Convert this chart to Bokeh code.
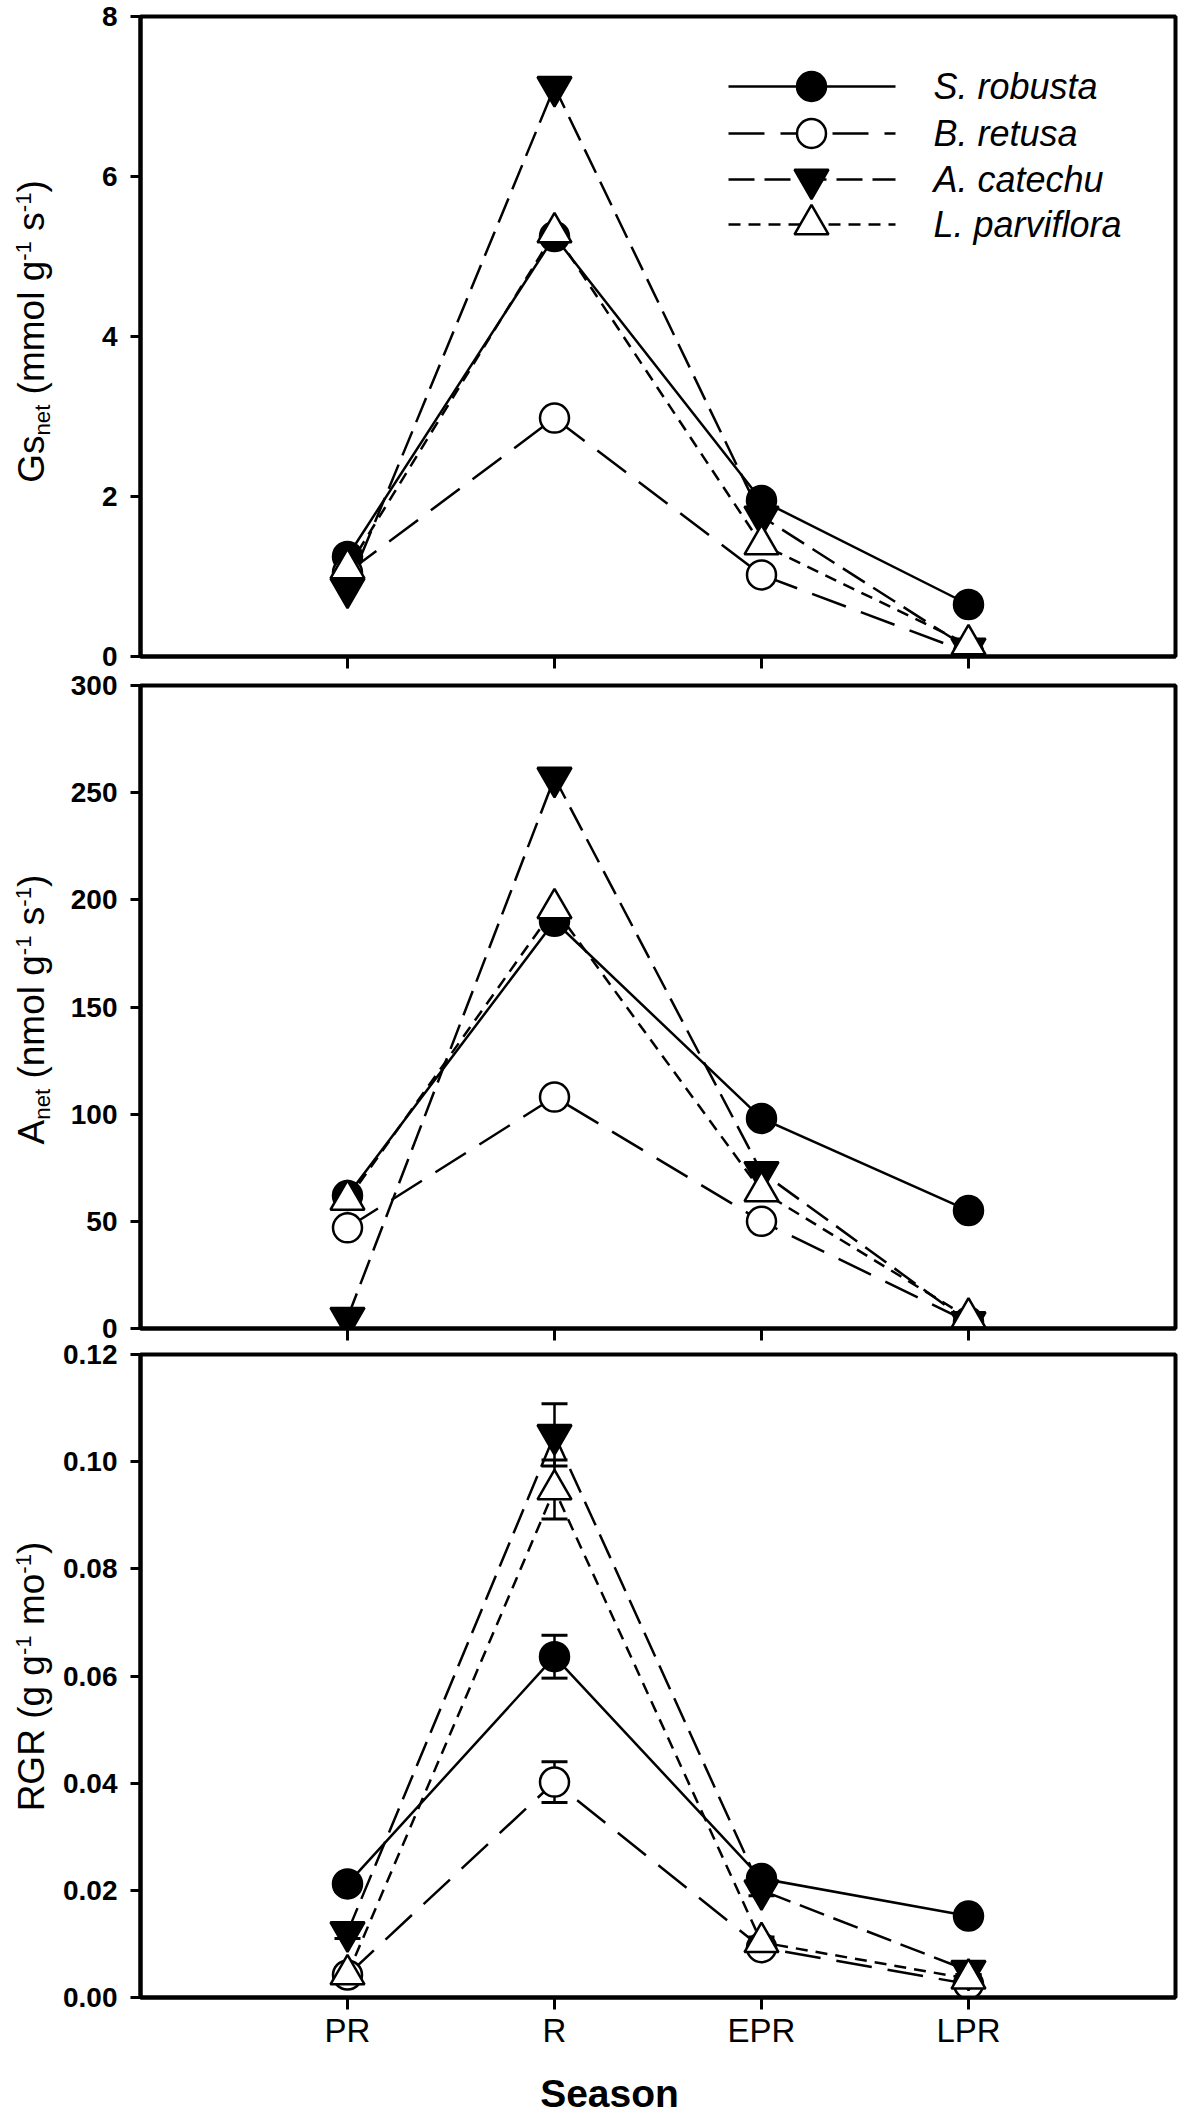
import math
from bokeh.plotting import figure
from bokeh.layouts import column, row
from bokeh.models import Range1d, FixedTicker, Label, Whisker, ColumnDataSource, TeeHead
from bokeh.core.properties import value
from bokeh.embed import file_html
from bokeh.resources import INLINE

# ---------------- data ----------------
seasons = ["PR", "R", "EPR", "LPR"]
species = ["S. robusta", "B. retusa", "A. catechu", "L. parviflora"]

gs_s_robusta = [1.25, 5.25, 1.95, 0.65]
gs_b_retusa = [1.05, 2.98, 1.02, 0.05]
gs_a_catechu = [0.85, 7.12, 1.75, 0.10]
gs_l_parviflora = [1.10, 5.30, 1.40, 0.15]

an_s_robusta = [62, 190, 98, 55]
an_b_retusa = [47, 108, 50, 3]
an_a_catechu = [5, 257, 73, 3]
an_l_parviflora = [60, 196, 64, 5]

rgr_s_robusta = [0.0212, 0.0636, 0.0222, 0.0152]
rgr_b_retusa = [0.0042, 0.0402, 0.0093, 0.0025]
rgr_a_catechu = [0.0122, 0.1050, 0.0200, 0.0050]
rgr_l_parviflora = [0.0043, 0.0948, 0.0103, 0.0035]

rgr_err_s_robusta = [0.0010, 0.0040, 0.0010, 0.0008]
rgr_err_b_retusa = [0.0010, 0.0038, 0.0008, 0.0008]
rgr_err_a_catechu = [0.0012, 0.0058, 0.0010, 0.0008]
rgr_err_l_parviflora = [0.0012, 0.0055, 0.0010, 0.0008]

gs_ticks = [0, 2, 4, 6, 8]
gs_tick_labels = ["0", "2", "4", "6", "8"]
an_ticks = [0, 50, 100, 150, 200, 250, 300]
an_tick_labels = ["0", "50", "100", "150", "200", "250", "300"]
rgr_ticks = [0, 0.02, 0.04, 0.06, 0.08, 0.10, 0.12]
rgr_tick_labels = ["0.00", "0.02", "0.04", "0.06", "0.08", "0.10", "0.12"]

# ---------------- styles / layout ----------------
FONT = "Liberation Sans"
X_RANGE = (0, 5)
x_pos = [i + 1 for i in range(len(seasons))]
LABEL_W = 58          # width of the strip that carries the rotated y titles
MAIN_LEFT = 82        # main figure left border (frame starts at page x = 140)
FRAME_W = 1035
RIGHT_B = 5
TOTAL_W = LABEL_W + MAIN_LEFT + FRAME_W + RIGHT_B
FRAME_LEFT_PAGE = LABEL_W + MAIN_LEFT
PX_PER_X = FRAME_W / (X_RANGE[1] - X_RANGE[0])

STY = {
    "S. robusta": dict(marker="circle", fill="black", dash="solid", size=29),
    "B. retusa": dict(marker="circle", fill="white", dash="36 16", size=29),
    "A. catechu": dict(marker="inverted_triangle", fill="black", dash="26 10", size=34),
    "L. parviflora": dict(marker="triangle", fill="white", dash="12 8", size=34),
}

AW = {'G': 778, 's': 500, 'n': 556, 'e': 556, 't': 278, ' ': 278, '(': 333, ')': 333,
      'm': 833, 'o': 556, 'l': 222, 'g': 556, '-': 333, '1': 556, 'A': 667, 'R': 722}


def tw(s, size):
    return sum(AW[c] for c in s) * size / 1000.0


def px_to_x(px):
    return X_RANGE[0] + (px - FRAME_LEFT_PAGE) / PX_PER_X


def make_panel(yr, ticks, tick_labels, frame_top_page, frame_h, top, bottom, show_x):
    p = figure(frame_width=FRAME_W, frame_height=frame_h,
               x_range=Range1d(*X_RANGE), y_range=Range1d(*yr),
               output_backend="svg", toolbar_location=None,
               min_border_left=MAIN_LEFT, min_border_right=RIGHT_B,
               min_border_top=top, min_border_bottom=bottom)
    p.grid.visible = False
    p.outline_line_color = "black"
    p.outline_line_width = 4
    p.background_fill_color = "white"
    p.border_fill_color = "white"
    for ax in (p.xaxis[0], p.yaxis[0]):
        ax.axis_line_width = 4
        ax.axis_line_color = "black"
        ax.major_tick_line_width = 3
        ax.major_tick_in = 0
        ax.minor_tick_line_color = None
    p.xaxis.ticker = FixedTicker(ticks=x_pos)
    p.xaxis.major_tick_out = 12
    p.xaxis.major_label_overrides = {x: (s if show_x else "") for x, s in zip(x_pos, seasons)}
    p.xaxis.major_label_text_font = FONT
    p.xaxis.major_label_text_font_size = "33px" if show_x else "1px"
    p.xaxis.major_label_text_color = "black"
    p.xaxis.major_label_standoff = 2
    p.yaxis.ticker = FixedTicker(ticks=ticks)
    p.yaxis.major_label_overrides = {t: l for t, l in zip(ticks, tick_labels)}
    p.yaxis.major_tick_out = 10
    p.yaxis.major_label_text_font = FONT
    p.yaxis.major_label_text_font_style = "bold"
    p.yaxis.major_label_text_font_size = "28px"
    p.yaxis.major_label_text_color = "black"
    p.yaxis.major_label_standoff = 13
    frame_bottom_page = frame_top_page + frame_h
    p._py = lambda py: yr[0] + (frame_bottom_page - py) * (yr[1] - yr[0]) / frame_h
    return p


def draw_series(p, ys_list, errs_list=None):
    for k, sp in enumerate(species):
        st = STY[sp]
        ys = ys_list[k]
        src = ColumnDataSource(dict(x=x_pos, y=ys))
        if errs_list is not None:
            e = errs_list[k]
            wsrc = ColumnDataSource(dict(x=x_pos, lo=[a - b for a, b in zip(ys, e)],
                                         hi=[a + b for a, b in zip(ys, e)]))
            w = Whisker(base="x", lower="lo", upper="hi", source=wsrc, line_width=2.5,
                        upper_head=TeeHead(size=26, line_width=3),
                        lower_head=TeeHead(size=26, line_width=3))
            p.add_layout(w)
        p.line("x", "y", source=src, line_color="black", line_width=2.5, line_dash=st["dash"])
    for k, sp in enumerate(species):
        st = STY[sp]
        src = ColumnDataSource(dict(x=x_pos, y=ys_list[k]))
        p.scatter("x", "y", source=src, marker=st["marker"], size=st["size"],
                  fill_color=st["fill"], line_color="black", line_width=2.5)


def label_strip(frame_h, top, bottom, pieces, center_from_top, size, base_x=44):
    """Narrow figure left of a panel that carries the rotated y title (with sub/superscripts)."""
    q = figure(frame_width=LABEL_W, frame_height=frame_h,
               x_range=Range1d(0, LABEL_W), y_range=Range1d(frame_h, 0),
               x_axis_type=None, y_axis_type=None, output_backend="svg",
               toolbar_location=None, min_border_left=0, min_border_right=0,
               min_border_top=top, min_border_bottom=bottom)
    q.grid.visible = False
    q.outline_line_color = None
    q.background_fill_color = "white"
    q.border_fill_color = "white"
    sizes = [size if k == "n" else size * 0.6 for _, k in pieces]
    total = sum(tw(t, s) for (t, _), s in zip(pieces, sizes))
    y0 = center_from_top + total / 2.0
    adv = 0.0
    for (txt, kind), fs in zip(pieces, sizes):
        shift = 0 if kind == "n" else (-0.36 * size if kind == "sup" else 0.16 * size)
        lead = len(txt) - len(txt.lstrip(" "))
        lead_w = tw(" " * lead, fs)
        # baseline of the rotated piece at base_x + shift; its middle lies 0.35*fs to the left
        q.text(x=[base_x + shift - 0.35 * fs], y=[y0 - adv - lead_w], text=[txt.strip(" ")],
               angle=math.pi / 2, text_font=value(FONT), text_font_size=f"{fs:.1f}px",
               text_color="black", text_align="left", text_baseline="middle")
        adv += tw(txt, fs)
    return q


# ---------------- panel 1 ----------------
p1 = make_panel((0, 8), gs_ticks, gs_tick_labels, 16, 640, 16, 15, False)
draw_series(p1, [gs_s_robusta, gs_b_retusa, gs_a_catechu, gs_l_parviflora])
l1 = label_strip(640, 16, 15, [("Gs", "n"), ("net", "sub"), (" (mmol g", "n"), ("-1", "sup"),
                               (" s", "n"), ("-1", "sup"), (")", "n")], 331 - 16, 37)

# legend (drawn manually, positions in page pixels)
leg_rows = [86, 133, 179, 224]
for k, sp in enumerate(species):
    st = STY[sp]
    yy = p1._py(leg_rows[k])
    p1.line([px_to_x(728), px_to_x(895)], [yy, yy], line_color="black", line_width=2.5,
            line_dash=st["dash"])
    p1.scatter([px_to_x(811)], [yy], marker=st["marker"], size=st["size"],
               fill_color=st["fill"], line_color="black", line_width=2.5)
    p1.add_layout(Label(x=px_to_x(933), y=yy, text=sp, text_font=FONT,
                        text_font_style="italic", text_font_size="36px",
                        text_baseline="middle", text_align="left", text_color="black"))

# ---------------- panel 2 ----------------
p2 = make_panel((0, 300), an_ticks, an_tick_labels, 685, 643, 14, 13, False)
draw_series(p2, [an_s_robusta, an_b_retusa, an_a_catechu, an_l_parviflora])
l2 = label_strip(643, 14, 13, [("A", "n"), ("net", "sub"), (" (nmol g", "n"), ("-1", "sup"),
                               (" s", "n"), ("-1", "sup"), (")", "n")], 1009 - 685, 37)

# ---------------- panel 3 ----------------
P3_BOTTOM = 72
p3 = make_panel((0, 0.12), rgr_ticks, rgr_tick_labels, 1354, 643, 13, P3_BOTTOM, True)
draw_series(p3, [rgr_s_robusta, rgr_b_retusa, rgr_a_catechu, rgr_l_parviflora],
            [rgr_err_s_robusta, rgr_err_b_retusa, rgr_err_a_catechu, rgr_err_l_parviflora])
l3 = label_strip(643, 13, P3_BOTTOM, [("RGR (g g", "n"), ("-1", "sup"), (" mo", "n"),
                                      ("-1", "sup"), (")", "n")], 1676 - 1354, 37)

# ---------------- x title ----------------
P3_END = 1354 + 643 + P3_BOTTOM
SEASON_H = 2116 - P3_END
ps = figure(frame_width=TOTAL_W, frame_height=SEASON_H,
            x_range=Range1d(0, TOTAL_W), y_range=Range1d(SEASON_H, 0),
            x_axis_type=None, y_axis_type=None, output_backend="svg", toolbar_location=None,
            min_border_left=0, min_border_right=0, min_border_top=0, min_border_bottom=0)
ps.grid.visible = False
ps.outline_line_color = None
ps.text(x=[609], y=[SEASON_H / 2.0], text=["Season"], text_font=value(FONT),
        text_font_style="bold", text_font_size="39px", text_align="center",
        text_baseline="middle", text_color="black")

layout = column(row(l1, p1, spacing=0), row(l2, p2, spacing=0), row(l3, p3, spacing=0), ps,
                spacing=0)
open("out.html", "w").write(file_html(layout, INLINE))
